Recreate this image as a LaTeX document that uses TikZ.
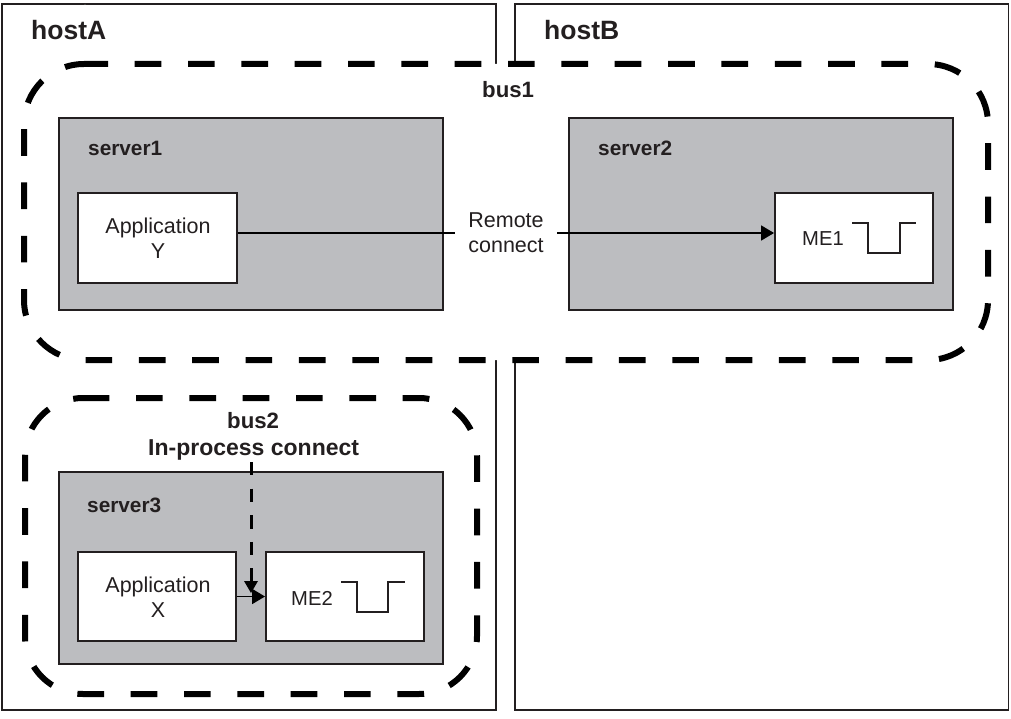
\documentclass[tikz,border=0pt]{standalone}
\usepackage{fontspec}
\setmainfont{Liberation Sans}
\usetikzlibrary{arrows.meta}
\definecolor{ink}{HTML}{231F20}
\definecolor{srv}{HTML}{BCBDC0}
\tikzset{
  hostbox/.style={draw=ink,line width=1.4pt},
  busline/.style={draw=black,line width=6pt,dash pattern=on 26.67pt off 26.67pt,dash phase=#1,rounded corners=58pt},
  serverbox/.style={draw=ink,fill=srv,line width=2.4pt},
  innerbox/.style={draw=ink,fill=white,line width=1.9pt},
  signal/.style={draw=ink,line width=1.6pt,line join=miter},
  link/.style={draw=black,line width=1.8pt,-{Triangle[length=13pt,width=15pt,fill=black]}},
  dlink/.style={draw=black,line width=3pt,dash pattern=on 13.3pt off 13.3pt},
  big/.style={font=\fontsize{26.5}{30}\selectfont\bfseries,text=ink,inner sep=0pt,anchor=base west},
  bold/.style={font=\fontsize{20.8}{25}\selectfont\bfseries,text=ink,inner sep=0pt,anchor=base west},
  buslabel/.style={font=\fontsize{22.2}{25}\selectfont\bfseries,text=ink,inner sep=0pt,anchor=base west},
  boldlarge/.style={font=\fontsize{23}{25}\selectfont\bfseries,text=ink,inner sep=0pt,anchor=base west},
  plain/.style={font=\fontsize{21.5}{25}\selectfont,text=ink,inner sep=0pt,align=center},
  tag/.style={font=\fontsize{20.2}{25}\selectfont,text=ink,inner sep=0pt,anchor=base west},
}
\begin{document}
\begin{tikzpicture}[x=1pt,y=-1pt]
\useasboundingbox (0,0) rectangle (1011,719);
\fill[white] (0,0) rectangle (1011,719);
% hosts
\draw[hostbox] (2,4) rectangle (496,710);
\draw[hostbox] (515,4) rectangle (1008.5,710);
% bus 1
\fill[white,rounded corners=60pt] (85,64) -- (988,64) -- (988,360) -- (24,360) -- (24,64) -- (85,64) -- cycle;
\path[busline=3.67pt,rounded corners=60pt] (85,64) -- (988,64) -- (988,360) -- (24,360) -- (24,64) -- (85,64);
% bus 2
\path[busline=3.33pt] (86,398) -- (477,398) -- (477,694) -- (25,694) -- (25,398) -- (86,398);
% servers
\draw[serverbox] (59,118) rectangle (443,310);
\draw[serverbox] (569,118) rectangle (953,310);
\draw[serverbox] (59,472) rectangle (443,664);
% inner boxes
\node[innerbox,minimum width=159pt,minimum height=90pt,inner sep=0pt] (appY) at (157.5,238) {};
\node[innerbox,minimum width=158pt,minimum height=90pt,inner sep=0pt] (me1) at (854,238) {};
\node[innerbox,minimum width=158pt,minimum height=89pt,inner sep=0pt] (appX) at (157,596.5) {};
\node[innerbox,minimum width=158pt,minimum height=89pt,inner sep=0pt] (me2) at (345,596.5) {};
% signal shapes
\draw[signal] (852,223) -- (868,223) -- (868,253) -- (900,253) -- (900,223) -- (916,223);
\draw[signal] (341,582) -- (357,582) -- (357,612) -- (388,612) -- (388,582) -- (405,582);
% labels
\node[big] (hostA) at (31,40) {hostA};
\node[big] (hostB) at (544,40) {hostB};
\node[buslabel] (bus1) at (482,98) {bus1};
\node[bold] (server1) at (88,156) {server1};
\node[bold] (server2) at (598,156) {server2};
\node[bold] (server3) at (87,512) {server3};
\node[buslabel] (bus2) at (227,428) {bus2};
\node[boldlarge] (inproc) at (148,455) {In-process connect};
\node[plain] (tY) at (158,238) {Application\\Y};
\node[plain] (tX) at (158,597) {Application\\X};
\node[tag] (tME1) at (802,246) {ME1};
\node[tag] (tME2) at (291,605) {ME2};
% connectors
\draw[link] ([yshift=5pt]appY.east) -- ([yshift=5pt]me1.west);
\node[plain,fill=white,inner xsep=13pt,inner ysep=1pt] (remote) at (506,233) {Remote\\connect};
\draw[link] (appX.east) -- (me2.west);
\coordinate (dtip) at (251,593);
\coordinate (dtop) at (251,462);
\draw[dlink] (dtop) -- (251,585);
\path[fill=black] (244,581) -- (258,581) -- (dtip) -- cycle;
\end{tikzpicture}
\end{document}
